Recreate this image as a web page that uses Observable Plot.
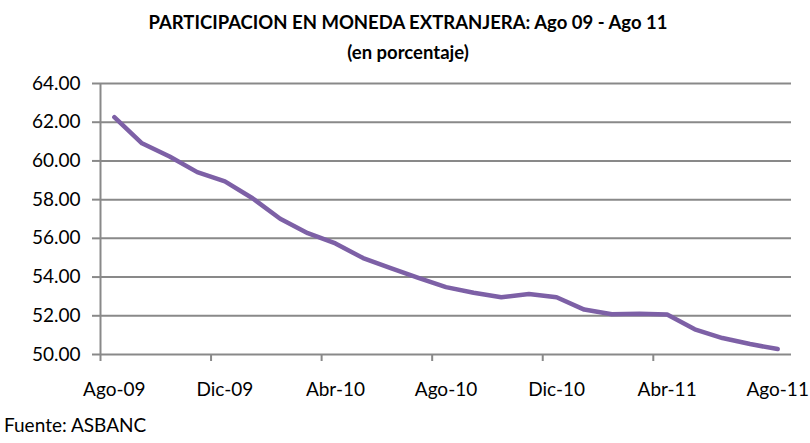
<!DOCTYPE html>
<html>
<head>
<meta charset="utf-8">
<script src="https://cdn.jsdelivr.net/npm/d3@7"></script>
<script src="https://cdn.jsdelivr.net/npm/@observablehq/plot@0.6"></script>
<style>
  html, body { margin: 0; padding: 0; background: #fff; }
  body { width: 810px; height: 443px; overflow: hidden; font-family: Lato, "Open Sans", sans-serif; color: #000; }
  #title { height: 70px; text-align: center; font-weight: bold; font-size: 18.5px; padding-left: 6px; box-sizing: border-box; }
  #t1 { padding-top: 10px; line-height: 24px; }
  #t2 { padding-top: 6px; line-height: 24px; }
  #caption { font-size: 19px; padding-left: 4px; margin-top: 3px; line-height: 24px; }
  svg { display: block; }
</style>
</head>
<body>
<div id="title"><div id="t1">PARTICIPACION EN MONEDA EXTRANJERA: Ago 09 - Ago 11</div><div id="t2">(en porcentaje)</div></div>
<div id="chart"></div>
<div id="caption">Fuente: ASBANC</div>
<script>
const months = ["Ago-09","Sep-09","Oct-09","Nov-09","Dic-09","Ene-10","Feb-10","Mar-10","Abr-10","May-10","Jun-10","Jul-10","Ago-10","Sep-10","Oct-10","Nov-10","Dic-10","Ene-11","Feb-11","Mar-11","Abr-11","May-11","Jun-11","Jul-11","Ago-11"];
const values = [62.26, 60.91, 60.23, 59.42, 58.94, 58.07, 57.01, 56.27, 55.74, 54.98, 54.46, 53.96, 53.48, 53.19, 52.96, 53.13, 52.96, 52.32, 52.08, 52.10, 52.07, 51.30, 50.85, 50.54, 50.28];
const yTicks = [50, 52, 54, 56, 58, 60, 62, 64];
const xLabelEvery = 4;

const data = months.map((m, i) => ({i, month: m, value: values[i]}));
const labelIdx = d3.range(0, months.length, xLabelEvery);
const boundaryIdx = labelIdx.filter(i => i < months.length - 1).map(i => i - 0.5);

const gridColor = "#898989";

const chart = Plot.plot({
  width: 810,
  height: 340,
  marginTop: 13,
  marginBottom: 56,
  marginLeft: 100,
  marginRight: 19,
  style: {fontFamily: "Lato, 'Open Sans', sans-serif", fontSize: "19px", color: "#000", background: "#fff", overflow: "visible"},
  x: {type: "linear", domain: [-0.5, months.length - 0.5]},
  y: {domain: [yTicks[0], yTicks[yTicks.length - 1]]},
  marks: [
    Plot.ruleY(yTicks, {stroke: gridColor, strokeWidth: 2}),
    Plot.ruleX([-0.5], {stroke: gridColor, strokeWidth: 2}),
    Plot.axisY({ticks: yTicks, tickSize: 8, tickPadding: 12, tickFormat: d => d.toFixed(2), stroke: gridColor, strokeWidth: 2, strokeOpacity: 1, fill: "#000", label: null}),
    Plot.axisX({ticks: boundaryIdx, tickSize: 7, tickFormat: () => "", stroke: gridColor, strokeWidth: 2, strokeOpacity: 1, label: null}),
    Plot.axisX({ticks: labelIdx, tickSize: 0, tickPadding: 28, tickFormat: i => months[i], fill: "#000", label: null}),
    Plot.line(data, {x: "i", y: "value", stroke: "#7d60a6", strokeWidth: 4.5, strokeLinejoin: "round", strokeLinecap: "round"})
  ]
});
document.getElementById("chart").appendChild(chart);
</script>
</body>
</html>
